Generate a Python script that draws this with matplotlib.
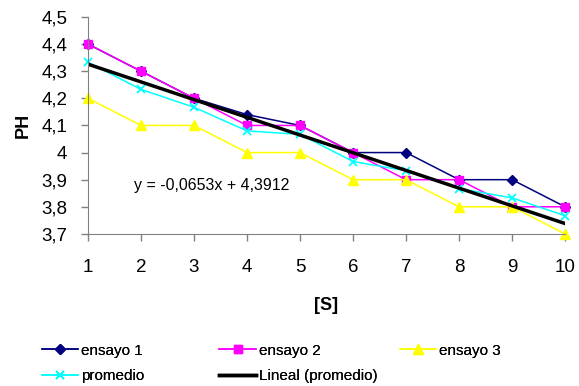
import matplotlib.pyplot as plt
import numpy as np

plt.rcParams['font.family'] = ['Liberation Sans', 'DejaVu Sans']

# datos
x = [1, 2, 3, 4, 5, 6, 7, 8, 9, 10]
ensayo1 = [4.4, 4.3, 4.2, 4.14, 4.1, 4.0, 4.0, 3.9, 3.9, 3.8]
ensayo2 = [4.4, 4.3, 4.2, 4.1, 4.1, 4.0, 3.9, 3.9, 3.8, 3.8]
ensayo3 = [4.2, 4.1, 4.1, 4.0, 4.0, 3.9, 3.9, 3.8, 3.8, 3.7]
promedio = [4.333, 4.233, 4.167, 4.08, 4.067, 3.967, 3.933, 3.867, 3.833, 3.767]
pendiente = -0.0653
intercepto = 4.3912
yticks = [3.7, 3.8, 3.9, 4.0, 4.1, 4.2, 4.3, 4.4, 4.5]
ytick_labels = ['3,7', '3,8', '3,9', '4', '4,1', '4,2', '4,3', '4,4', '4,5']

fig = plt.figure(figsize=(5.79, 3.86), dpi=100)
ax = fig.add_axes([0.152, 0.394, 0.824, 0.562])

l1, = ax.plot(x, ensayo1, color='#000080', marker='D', markersize=5, lw=1.1, clip_on=False, label='ensayo 1')
l2, = ax.plot(x, ensayo2, color='#FF00FF', marker='s', markersize=6, lw=1.1, clip_on=False, label='ensayo 2')
l3, = ax.plot(x, ensayo3, color='#FFFF00', marker='^', markersize=7, lw=1.1, clip_on=False, label='ensayo 3')
l4, = ax.plot(x, promedio, color='#00FFFF', marker='x', markersize=6, mew=1.3, lw=1.1, clip_on=False, label='promedio')
xs = np.array(x)
l5, = ax.plot(xs, pendiente * xs + intercepto, color='black', lw=2.5, label='Lineal (promedio)')

ax.text(1.87, 3.877, 'y = -0,0653x + 4,3912', fontsize=11.5, va='center', ha='left')

ax.set_xlim(1, 10)
ax.set_ylim(3.7, 4.5)
ax.set_xticks(x)
ax.set_yticks(yticks)
ax.set_yticklabels(ytick_labels)
ax.tick_params(labelsize=13.5, colors='#808080', labelcolor='black', length=5, width=1, direction='out')
ax.tick_params(axis='x', pad=13)
ax.tick_params(axis='y', pad=10)
for s in ['top', 'right']:
    ax.spines[s].set_visible(False)
for s in ['left', 'bottom']:
    ax.spines[s].set_color('#808080')

ax.set_ylabel('PH', fontsize=13, fontweight='bold', labelpad=7)
ax.set_xlabel('[S]', fontsize=13, fontweight='bold', labelpad=15)

# leyenda en tres columnas de ancho igual
columnas = [([l1, l4], ['ensayo 1', 'promedio'], 0.072),
            ([l2, l5], ['ensayo 2', 'Lineal (promedio)'], 0.379),
            ([l3], ['ensayo 3'], 0.690)]
for handles, labels, x0 in columnas:
    leg = fig.legend(handles, labels, loc='upper left', bbox_to_anchor=(x0, 0.110),
                     frameon=False, fontsize=11, handlelength=2.4,
                     handletextpad=0.2, labelspacing=0.75, borderaxespad=0.0,
                     borderpad=0.0)
    fig.add_artist(leg)

plt.savefig('out.png', dpi=100)
